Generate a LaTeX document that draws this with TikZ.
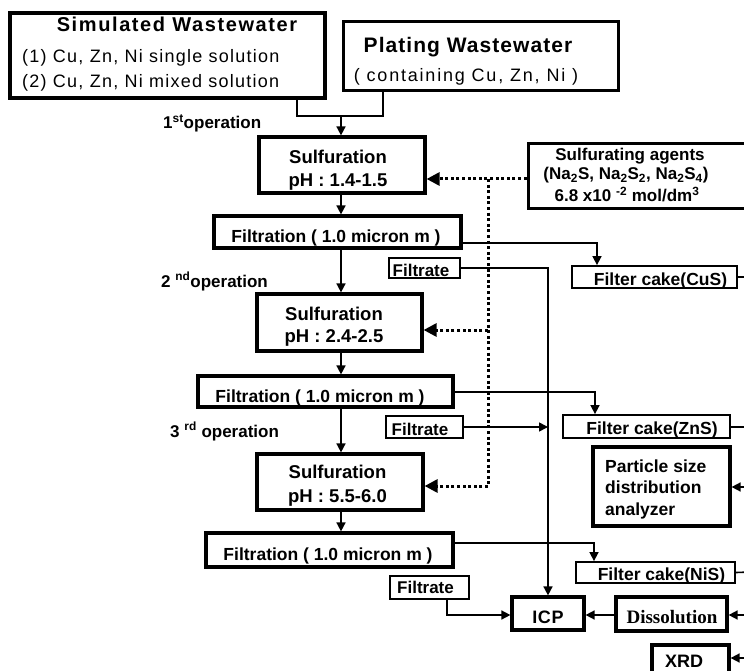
\documentclass[tikz,border=0pt]{standalone}
\usepackage{fontspec}
\setmainfont{Liberation Sans}
\newfontfamily\serifface{Liberation Serif}
\usetikzlibrary{arrows.meta}
\newcommand\myfs[1]{\fontsize{#1}{#1}\selectfont}
\newcommand\lsp[1]{\addfontfeature{LetterSpace=#1}}
\begin{document}
\begin{tikzpicture}[x=1pt,y=-1pt,
  thickbox/.style={draw, line width=3.2pt, inner sep=0pt},
  midbox/.style={draw, line width=3pt, inner sep=0pt},
  thinbox/.style={draw, line width=1.8pt, inner sep=0pt},
  txt/.style={inner sep=0pt, anchor=base},
  ltxt/.style={inner sep=0pt, anchor=base west},
  bt/.style={txt, font=\bfseries\myfs{#1}},
  wire/.style={line width=1.6pt},
  conn/.style={line width=1.6pt, -{Triangle[length=9pt,width=9pt]}},
  dotl/.style={line width=3pt, dash pattern=on 3pt off 2.6pt},
  dotarr/.style={dotl, -{Triangle[length=13pt,width=13pt]}}
]
\useasboundingbox (0,0) rectangle (744,671);
\fill[white] (0,0) rectangle (744,671);
\clip (0,0) rectangle (744,671);

% ---------- source boxes
\node[thickbox, minimum width=315pt, minimum height=85pt] (sim) at (167.5,55.5) {};
\node[txt, font=\bfseries\myfs{20}\lsp{8}] (simT) at (177,32) {Simulated Wastewater};
\node[ltxt, font=\myfs{18}\lsp{7}] (sim1) at (22,63) {(1) Cu, Zn, Ni single solution};
\node[ltxt, font=\myfs{18}\lsp{7}] (sim2) at (22,88) {(2) Cu, Zn, Ni mixed solution};

\node[midbox, minimum width=275pt, minimum height=69pt] (plat) at (480.5,56.5) {};
\node[txt, font=\bfseries\myfs{21}\lsp{5}] (platT) at (468,53) {Plating Wastewater};
\node[txt, font=\myfs{18}\lsp{10}] (plat1) at (466,82) {( containing Cu, Zn, Ni )};

% ---------- operation labels
\node[ltxt, font=\bfseries\myfs{17}] (op1) at (163,129) {1\textsuperscript{st}operation};
\node[ltxt, font=\bfseries\myfs{17}] (op2) at (161,287) {2 \textsuperscript{nd}operation};
\node[ltxt, font=\bfseries\myfs{17}] (op3) at (170,437) {3 \textsuperscript{rd} operation};

% ---------- main column
\node[thickbox, minimum width=166pt, minimum height=56pt] (s1) at (342,165) {};
\node[bt=18.5] (s1a) at (338,164) {Sulfuration};
\node[bt=18.5] (s1b) at (338,187) {pH : 1.4-1.5};

\node[thickbox, minimum width=247pt, minimum height=32pt] (f1) at (337.5,232) {};
\node[bt=17.5] (f1t) at (336,242) {Filtration ( 1.0 micron m )};

\node[thickbox, minimum width=165pt, minimum height=57pt] (s2) at (339.5,322.5) {};
\node[bt=18.5] (s2a) at (334,320) {Sulfuration};
\node[bt=18.5] (s2b) at (334,342) {pH : 2.4-2.5};

\node[thickbox, minimum width=255pt, minimum height=31pt] (f2) at (325.5,391.5) {};
\node[bt=17.5] (f2t) at (320,402) {Filtration ( 1.0 micron m )};

\node[thickbox, minimum width=166pt, minimum height=56pt] (s3) at (340,482) {};
\node[bt=18.5] (s3a) at (337.5,478) {Sulfuration};
\node[bt=18.5] (s3b) at (337.5,502) {pH : 5.5-6.0};

\node[thickbox, minimum width=247pt, minimum height=34pt] (f3) at (329.5,550) {};
\node[bt=17.5] (f3t) at (328,560) {Filtration ( 1.0 micron m )};

% ---------- filtrates
\node[thinbox, minimum width=71pt, minimum height=20pt] (ft1) at (424.5,268) {};
\node[bt=17] (ft1t) at (421,276) {Filtrate};
\node[thinbox, minimum width=77pt, minimum height=22pt] (ft2) at (424.5,427) {};
\node[bt=17] (ft2t) at (420,435) {Filtrate};
\node[thinbox, minimum width=79pt, minimum height=23pt] (ft3) at (429.5,587.5) {};
\node[bt=17] (ft3t) at (425.5,593) {Filtrate};

% ---------- sulfurating agents
\node[midbox, minimum width=232pt, minimum height=65pt] (ag) at (644,176.5) {};
\node[bt=17] (ag1) at (630,161) {Sulfurating agents};
\node[bt=17] (ag2) at (626,180) {(Na\textsubscript{2}S, Na\textsubscript{2}S\textsubscript{2}, Na\textsubscript{2}S\textsubscript{4})};
\node[bt=17] (ag3) at (627,202) {6.8 x10 \textsuperscript{-2} mol/dm\textsuperscript{3}};

% ---------- right column
\node[thinbox, minimum width=165pt, minimum height=22pt] (cu) at (654.5,277) {};
\node[bt=17.5] (cut) at (660.5,285) {Filter cake(CuS)};
\node[thinbox, minimum width=167pt, minimum height=23pt] (zn) at (646.5,426.5) {};
\node[bt=17.5] (znt) at (652,434) {Filter cake(ZnS)};
\node[thickbox, minimum width=137pt, minimum height=79pt] (psd) at (661.5,486.5) {};
\node[ltxt, font=\bfseries\myfs{17.5}] (psd1) at (605,472) {Particle size};
\node[ltxt, font=\bfseries\myfs{17.5}] (psd2) at (605,493) {distribution};
\node[ltxt, font=\bfseries\myfs{17.5}] (psd3) at (605,515) {analyzer};
\node[thinbox, minimum width=159pt, minimum height=21pt] (ni) at (655.5,572.5) {};
\node[bt=17.5] (nit) at (661.5,580) {Filter cake(NiS)};

\node[thickbox, minimum width=72pt, minimum height=33pt] (icp) at (548,613.5) {};
\node[txt, font=\bfseries\myfs{18}\lsp{4}] (icpt) at (548,623) {ICP};
\node[thickbox, minimum width=111pt, minimum height=34pt] (dis) at (671.5,614) {};
\node[txt, font=\serifface\bfseries\myfs{19}] (dist) at (672,623) {Dissolution};
\node[thickbox, minimum width=77pt, minimum height=45pt] (xrd) at (690.5,667.5) {};
\node[bt=18] (xrdt) at (684,667) {XRD};

% ---------- coordinates
\coordinate (sb) at (297,116);
\coordinate (pb) at (383,116);
\coordinate (j1) at (341,116);
\coordinate (c1) at (597,243);
\coordinate (c2) at (595,392);
\coordinate (c3) at (594,543);
\coordinate (b1) at (548,268);
\coordinate (b3) at (447,615);
\coordinate (d1) at (488,179);
\coordinate (d2) at (488,330);
\coordinate (d3) at (488,486);
\coordinate (rcu) at (752,277);
\coordinate (rzn) at (752,427);
\coordinate (rni) at (752,572);
\coordinate (rpsd) at (752,487);
\coordinate (rdis) at (752,615);
\coordinate (rxrd) at (752,658);

% ---------- connectors
\draw[wire] (sim.south -| sb) -- (sb) -- (pb) -- (plat.south -| pb);
\draw[conn] (j1) -- (s1.north -| j1);
\draw[conn] (s1.south -| j1) -- (f1.north -| j1);
\draw[conn] (f1.south -| j1) -- (s2.north -| j1);
\draw[conn] (s2.south -| j1) -- (f2.north -| j1);
\draw[conn] (f2.south -| j1) -- (s3.north -| j1);
\draw[conn] (s3.south -| j1) -- (f3.north -| j1);

\draw[conn] (f1.east |- c1) -- (c1) -- (cu.north -| c1);
\draw[conn] (f2.east |- c2) -- (c2) -- (zn.north -| c2);
\draw[conn] (f3.east |- c3) -- (c3) -- (ni.north -| c3);

\draw[wire] (cu.east) -- (rcu);
\draw[wire] (zn.east |- rzn) -- (rzn);
\draw[wire] (ni.east) -- (rni);
\draw[conn] (rpsd) -- (psd.east |- rpsd);
\draw[conn] (rdis) -- (dis.east |- rdis);
\draw[conn] (rxrd) -- (xrd.east |- rxrd);

\draw[conn] (ft1.east) -- (b1) -- (icp.north -| b1);
\draw[conn] (ft2.east) -- (ft2.east -| b1);
\draw[conn] (ft3.south -| b3) -- (b3) -- (icp.west |- b3);
\draw[conn] (dis.west |- b3) -- (icp.east |- b3);

\draw[dotarr] (ag.west |- d1) -- (s1.east |- d1);
\draw[dotl] (d1) -- (d3);
\draw[dotarr] (d2) -- (s2.east |- d2);
\draw[dotarr] (d3) -- (s3.east |- d3);
\end{tikzpicture}
\end{document}
